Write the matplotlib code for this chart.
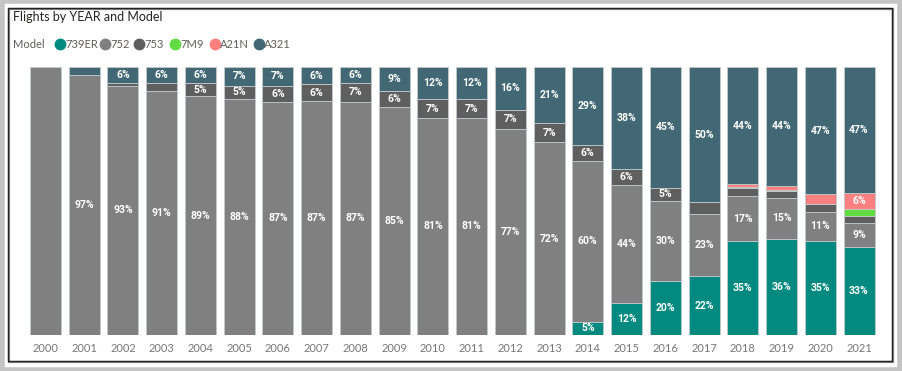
import numpy as np
import matplotlib
matplotlib.use("Agg")
import matplotlib.pyplot as plt
from matplotlib.patches import Rectangle
from matplotlib.lines import Line2D

years = [str(y) for y in range(2000, 2022)]
models = ["739ER", "752", "753", "7M9", "A21N", "A321"]
colors = ["#028A80", "#808080", "#5F5F5F", "#62DC42", "#FD8080", "#436875"]

e739 = [0, 0, 0, 0, 0, 0, 0, 0, 0, 0, 0, 0, 0, 0, 5, 12, 20, 22, 35, 36, 35, 32.8]
b752 = [100, 97, 93, 91, 89, 88, 87, 87.2, 87, 85, 81, 81, 77, 72, 60, 44, 30, 23, 16.8, 15, 11, 9]
b753 = [0, 0, 1, 3, 5, 5, 6, 6.4, 7, 6, 7, 7, 7, 7, 6, 6, 5, 4.6, 3.2, 2.6, 2.8, 2.6]
m7m9 = [0, 0, 0, 0, 0, 0, 0, 0, 0, 0, 0, 0, 0, 0, 0, 0, 0, 0, 0.3, 0.4, 0, 2.6]
a21n = [0, 0, 0, 0, 0, 0, 0, 0, 0, 0, 0, 0, 0, 0, 0, 0, 0, 0, 0.9, 1.6, 3.8, 6]
a321 = [0, 3, 6, 6, 6, 7, 7, 6.4, 6, 9, 12, 12, 16, 21, 29, 38, 45, 50.4, 43.8, 44.4, 47.4, 47]
series = [e739, b752, b753, m7m9, a21n, a321]

plt.rcParams["font.family"] = ["Lato", "DejaVu Sans"]

fig = plt.figure(figsize=(9.02, 3.71), dpi=100)
fig.patch.set_facecolor("white")

# frames
fig.patches.append(Rectangle((0.002, 0.004), 0.996, 0.992, transform=fig.transFigure,
                             fill=False, edgecolor="#c4c4c4", linewidth=4))
fig.patches.append(Rectangle((9 / 902, 9 / 371), 884 / 902, 353 / 371, transform=fig.transFigure,
                             fill=False, edgecolor="#8a8a8a", linewidth=1.6))
fig.patches.append(Rectangle((8 / 902, 10 / 371), 884 / 902, 353 / 371, transform=fig.transFigure,
                             fill=False, edgecolor="#222222", linewidth=1.0))

fig.text(13 / 902, 1 - 17 / 371, "Flights by YEAR and Model", fontsize=9,
         color="#252423", va="center", ha="left")

# legend
fig.text(13 / 902, 1 - 44 / 371, "Model", fontsize=8, color="#605E5C", va="center")
leg_x = [60, 105, 139, 175, 215, 259]
for lx, name, c in zip(leg_x, models, colors):
    fig.add_artist(Line2D([lx / 902], [1 - 44 / 371], marker="o", markersize=7.5,
                          color=c, transform=fig.transFigure, linestyle="none"))
    fig.text((lx + 5) / 902, 1 - 44 / 371, name, fontsize=8, color="#605E5C", va="center")

ax = fig.add_axes([26.1 / 902, 36 / 371, 852.3 / 902, 268 / 371])
x = np.arange(len(years))
bottom = np.zeros(len(years))
for vals, c in zip(series, colors):
    v = np.array(vals, dtype=float)
    ax.bar(x, v, 0.8, bottom=bottom, color=c, edgecolor="#c2c9cc", linewidth=0.6)
    for xi, vi, bi in zip(x, v, bottom):
        if 5 <= vi < 100:
            ax.text(xi, bi + vi / 2, f"{round(vi):.0f}%", ha="center", va="center",
                    color="white", fontsize=7.5, fontweight="bold", family="Roboto")
    bottom += v

ax.set_xlim(-0.5, len(years) - 0.5)
ax.set_ylim(0, 100)
ax.set_xticks(x)
ax.set_xticklabels(years, fontsize=8, color="#777777")
ax.tick_params(axis="x", length=0, pad=6)
ax.set_yticks([])
for s in ax.spines.values():
    s.set_visible(False)

fig.savefig("out.png", dpi=100)
